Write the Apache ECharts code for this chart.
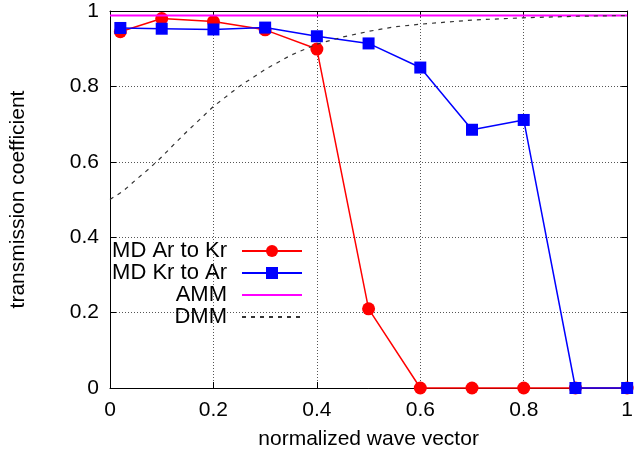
<!DOCTYPE html>
<html>
<head>
<meta charset="utf-8">
<script src="https://cdn.jsdelivr.net/npm/echarts@6/dist/echarts.min.js"></script>
<style>html,body{margin:0;padding:0;background:#fff;}#c{width:636px;height:458px;}</style>
</head>
<body>
<div id="c"></div>
<script>
var xTicks = [0, 0.2, 0.4, 0.6, 0.8, 1];
var yTicks = [0, 0.2, 0.4, 0.6, 0.8, 1];

var mdX = [0.02, 0.1, 0.2, 0.3, 0.4, 0.5, 0.6, 0.7, 0.8, 0.9, 1.0];
var arToKr = [0.945, 0.98, 0.972, 0.95, 0.899, 0.21, 0, 0, 0, 0, 0];
var krToAr = [0.955, 0.953, 0.951, 0.956, 0.933, 0.914, 0.850, 0.685, 0.711, 0, 0];

var ammX = [0, 1];
var ammY = [0.988, 0.988];

var dmmX = [0, 0.025, 0.05, 0.075, 0.1, 0.125, 0.15, 0.175, 0.2, 0.25, 0.3, 0.35, 0.4, 0.45, 0.5, 0.55, 0.6, 0.7, 0.8, 0.9, 1.0];
var dmmY = [0.50, 0.522, 0.552, 0.581, 0.613, 0.648, 0.682, 0.714, 0.747, 0.80, 0.845, 0.883, 0.912, 0.931, 0.946, 0.958, 0.965, 0.976, 0.982, 0.986, 0.988];

var names = ['MD Ar to Kr', 'MD Kr to Ar', 'AMM', 'DMM'];

function pairs(xs, ys) { return xs.map(function (x, i) { return [x, ys[i]]; }); }

var FONT = 'Liberation Sans';
var chart = echarts.init(document.getElementById('c'), null, { renderer: 'canvas' });

function mirrorAxis(pos) {
  return {
    type: 'value', min: 0, max: 1, interval: 0.2, position: pos,
    axisLine: { show: true, onZero: false, lineStyle: { color: '#000', width: 1 } },
    axisTick: { show: true, inside: true, length: 6, lineStyle: { color: '#000' } },
    axisLabel: { show: false },
    splitLine: { show: false }
  };
}

var hidden = { color: 'rgba(0,0,0,0)', borderColor: 'rgba(0,0,0,0)', borderWidth: 0 };

chart.setOption({
  animation: false,
  backgroundColor: '#fff',
  textStyle: { fontFamily: FONT },
  grid: { left: 108, right: 7, top: 11, bottom: 70, containLabel: false },
  legend: {
    orient: 'vertical',
    align: 'right',
    right: 328,
    top: 235,
    itemWidth: 60,
    itemHeight: 15,
    itemGap: 0,
    data: [
      { name: names[0] },
      { name: names[1] },
      { name: names[2], itemStyle: hidden },
      { name: names[3], itemStyle: hidden }
    ],
    textStyle: { fontFamily: FONT, fontSize: 22, color: '#000', padding: [0, 10, 0, 0] },
    selectedMode: false
  },
  xAxis: [{
    type: 'value', min: 0, max: 1, interval: 0.2, position: 'bottom',
    name: 'normalized wave vector', nameLocation: 'middle', nameGap: 41,
    nameTextStyle: { fontFamily: FONT, fontSize: 21, color: '#000' },
    axisLine: { show: true, onZero: false, lineStyle: { color: '#000', width: 1 } },
    axisTick: { show: true, inside: true, length: 6, lineStyle: { color: '#000' } },
    axisLabel: { fontFamily: FONT, fontSize: 21, color: '#000', margin: 12 },
    splitLine: { show: true, lineStyle: { color: '#555', width: 1, type: [1, 2] } }
  }, mirrorAxis('top')],
  yAxis: [{
    type: 'value', min: 0, max: 1, interval: 0.2, position: 'left',
    name: 'transmission coefficient', nameLocation: 'middle', nameGap: 81,
    nameTextStyle: { fontFamily: FONT, fontSize: 21, color: '#000' },
    axisLine: { show: true, onZero: false, lineStyle: { color: '#000', width: 1 } },
    axisTick: { show: true, inside: true, length: 6, lineStyle: { color: '#000' } },
    axisLabel: { fontFamily: FONT, fontSize: 21, color: '#000', margin: 11 },
    splitLine: { show: true, lineStyle: { color: '#555', width: 1, type: [1, 2] } }
  }, mirrorAxis('right')],
  series: [
    {
      name: names[0], type: 'line', data: pairs(mdX, arToKr), clip: false,
      symbol: 'circle', symbolSize: 13, showAllSymbol: true,
      itemStyle: { color: '#ff0000' }, lineStyle: { color: '#ff0000', width: 1.5 }, z: 2
    },
    {
      name: names[1], type: 'line', data: pairs(mdX, krToAr), clip: false,
      symbol: 'rect', symbolSize: 12, showAllSymbol: true,
      itemStyle: { color: '#0000ff' }, lineStyle: { color: '#0000ff', width: 1.5 }, z: 3
    },
    {
      name: names[2], type: 'line', data: pairs(ammX, ammY),
      symbol: 'none', itemStyle: { color: '#ff00ff' }, lineStyle: { color: '#ff00ff', width: 2 }, z: 4
    },
    {
      name: names[3], type: 'line', data: pairs(dmmX, dmmY),
      symbol: 'none', itemStyle: { color: '#333' }, lineStyle: { color: '#333', width: 1.2, type: [4, 5] }, z: 5
    }
  ]
});
</script>
</body>
</html>
